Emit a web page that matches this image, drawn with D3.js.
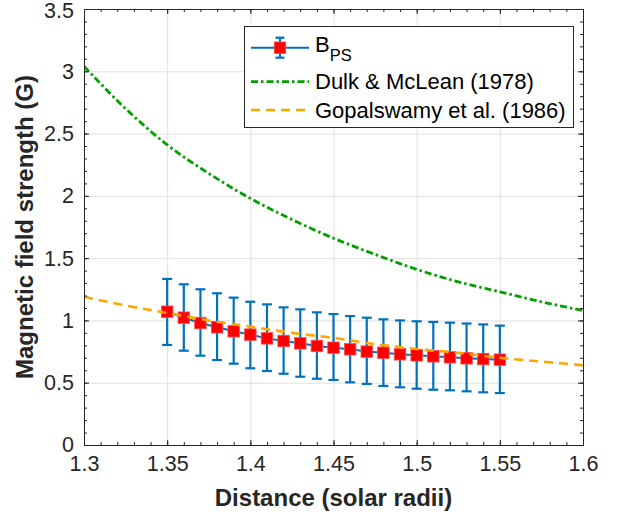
<!DOCTYPE html>
<html><head><meta charset="utf-8">
<script src="https://cdn.jsdelivr.net/npm/d3@7"></script>
<style>
body{margin:0;background:#fff}
svg{display:block}
text{font-family:"Liberation Sans",Arial,Helvetica,sans-serif}
</style>
</head><body><svg id="chart" width="621" height="515"></svg>
<script>
// ---- data ----
const distance = [1.35,1.36,1.37,1.38,1.39,1.40,1.41,1.42,1.43,1.44,1.45,1.46,1.47,1.48,1.49,1.50,1.51,1.52,1.53,1.54,1.55];
const bps      = [1.070,1.022,0.979,0.945,0.913,0.886,0.856,0.835,0.816,0.795,0.781,0.768,0.750,0.741,0.728,0.720,0.712,0.704,0.696,0.690,0.685];
const bpsUpper = [1.333,1.290,1.250,1.218,1.183,1.150,1.129,1.105,1.089,1.065,1.051,1.035,1.022,1.009,1.000,0.993,0.988,0.982,0.975,0.968,0.958];
const bpsLower = [0.803,0.757,0.717,0.682,0.653,0.616,0.594,0.572,0.548,0.532,0.522,0.503,0.490,0.474,0.463,0.452,0.444,0.439,0.431,0.423,0.417];
const modelR   = [1.300,1.325,1.350,1.375,1.400,1.425,1.450,1.475,1.500,1.525,1.550,1.575,1.600];
const dulk     = [3.04,2.70,2.41,2.18,1.98,1.81,1.66,1.53,1.41,1.31,1.23,1.15,1.08];
const gopal    = [1.19,1.12,1.06,1.00,0.95,0.90,0.86,0.81,0.77,0.74,0.70,0.67,0.64];
const xTicks = [1.3,1.35,1.4,1.45,1.5,1.55,1.6];
const xTickLabels = ["1.3","1.35","1.4","1.45","1.5","1.55","1.6"];
const yTicks = [0,0.5,1,1.5,2,2.5,3,3.5];
const yTickLabels = ["0","0.5","1","1.5","2","2.5","3","3.5"];
const legendLabels = ["B","Dulk & McLean (1978)","Gopalswamy et al. (1986)"];
const xLabel = "Distance (solar radii)";
const yLabel = "Magnetic field strength (G)";

// ---- layout ----
const L = 84, R = 583, T = 9, B = 445;
const svg = d3.select("#chart");
const x = d3.scaleLinear().domain([1.3,1.6]).range([L,R]);
const y = d3.scaleLinear().domain([0,3.5]).range([B,T]);
const axisCol = "#262626", gridCol = "#e0e0e0";
const blue = "#0072BD", red = "#FF0000", green = "#00A000", orange = "#FFA500";

const xMinor = d3.range(130,161).map(v=>v/100);
const yMinor = d3.range(0,36).map(v=>v/10);

// grid
const grid = svg.append("g");
grid.append("g").attr("transform",`translate(0,${B})`)
  .call(d3.axisBottom(x).tickValues(xTicks).tickSize(-(B-T)).tickFormat(""))
  .call(g=>{g.select(".domain").remove(); g.selectAll("line").attr("stroke",gridCol).attr("stroke-width",1);});
grid.append("g").attr("transform",`translate(${L},0)`)
  .call(d3.axisLeft(y).tickValues(yTicks).tickSize(-(R-L)).tickFormat(""))
  .call(g=>{g.select(".domain").remove(); g.selectAll("line").attr("stroke",gridCol).attr("stroke-width",1);});

// clip
svg.append("clipPath").attr("id","clip").append("rect").attr("x",L).attr("y",T).attr("width",R-L).attr("height",B-T);
const plot = svg.append("g").attr("clip-path","url(#clip)");

// BPS line
const pts = distance.map((d,i)=>({x:d,y:bps[i],lo:bpsLower[i],hi:bpsUpper[i]}));
plot.append("path").datum(pts)
  .attr("d", d3.line().x(d=>x(d.x)).y(d=>y(d.y)))
  .attr("fill","none").attr("stroke",blue).attr("stroke-width",2);
// error bars
const eb = plot.append("g").attr("stroke",blue).attr("stroke-width",2.2);
eb.selectAll(".v").data(pts).join("line")
  .attr("x1",d=>x(d.x)).attr("x2",d=>x(d.x)).attr("y1",d=>y(d.lo)).attr("y2",d=>y(d.hi));
eb.selectAll(".t").data(pts).join("line")
  .attr("x1",d=>x(d.x)-5).attr("x2",d=>x(d.x)+5).attr("y1",d=>y(d.hi)).attr("y2",d=>y(d.hi));
eb.selectAll(".b").data(pts).join("line")
  .attr("x1",d=>x(d.x)-5).attr("x2",d=>x(d.x)+5).attr("y1",d=>y(d.lo)).attr("y2",d=>y(d.lo));
// markers
plot.append("g").selectAll("rect").data(pts).join("rect")
  .attr("x",d=>x(d.x)-5.75).attr("y",d=>y(d.y)-5.75).attr("width",11.5).attr("height",11.5)
  .attr("fill",red).attr("stroke","#ff5050").attr("stroke-width",0.8);

// model curves
const curve = d3.line().x((d,i)=>x(modelR[i])).y(d=>y(d)).curve(d3.curveMonotoneX);
plot.append("path").datum(dulk).attr("d",curve)
  .attr("fill","none").attr("stroke",green).attr("stroke-width",2.8).attr("stroke-dasharray","7,3,2.5,3");
plot.append("path").datum(gopal).attr("d",curve)
  .attr("fill","none").attr("stroke",orange).attr("stroke-width",2.6).attr("stroke-dasharray","9,6");

// axes
const fs = 21.5;
function styleAxis(g){ g.select(".domain").attr("stroke",axisCol).attr("stroke-width",1); g.selectAll("line").attr("stroke",axisCol); g.selectAll("text").attr("fill",axisCol).attr("font-size",fs); }
svg.append("g").attr("transform",`translate(0,${B})`)
  .call(d3.axisBottom(x).tickValues(xTicks).tickSize(-5).tickPadding(11).tickSizeOuter(0).tickFormat((d,i)=>xTickLabels[i]))
  .call(styleAxis);
svg.append("g").attr("transform",`translate(0,${B})`)
  .call(d3.axisBottom(x).tickValues(xMinor).tickSize(-3).tickSizeOuter(0).tickFormat(""))
  .call(styleAxis);
svg.append("g").attr("transform",`translate(0,${T})`)
  .call(d3.axisTop(x).tickValues(xTicks).tickSize(-5).tickSizeOuter(0).tickFormat(""))
  .call(styleAxis);
svg.append("g").attr("transform",`translate(0,${T})`)
  .call(d3.axisTop(x).tickValues(xMinor).tickSize(-3).tickSizeOuter(0).tickFormat(""))
  .call(styleAxis);
svg.append("g").attr("transform",`translate(${L},0)`)
  .call(d3.axisLeft(y).tickValues(yTicks).tickSize(-5).tickPadding(10).tickSizeOuter(0).tickFormat((d,i)=>yTickLabels[i]))
  .call(styleAxis)
  .call(g=>g.selectAll(".tick").filter(d=>d===3.5).select("text").attr("dy","0.4em"));
svg.append("g").attr("transform",`translate(${L},0)`)
  .call(d3.axisLeft(y).tickValues(yMinor).tickSize(-3).tickSizeOuter(0).tickFormat(""))
  .call(styleAxis);
svg.append("g").attr("transform",`translate(${R},0)`)
  .call(d3.axisRight(y).tickValues(yTicks).tickSize(-5).tickSizeOuter(0).tickFormat(""))
  .call(styleAxis);
svg.append("g").attr("transform",`translate(${R},0)`)
  .call(d3.axisRight(y).tickValues(yMinor).tickSize(-3).tickSizeOuter(0).tickFormat(""))
  .call(styleAxis);

// axis labels
svg.append("text").attr("x",(L+R)/2).attr("y",506).attr("text-anchor","middle")
  .attr("font-size",24).attr("font-weight","bold").attr("fill",axisCol).text(xLabel);
svg.append("text").attr("transform",`translate(33,${(T+B)/2}) rotate(-90)`).attr("text-anchor","middle")
  .attr("font-size",24).attr("font-weight","bold").attr("fill",axisCol).text(yLabel);

// legend
const lfs = 22;
const lg = svg.append("g");
lg.append("rect").attr("x",244.5).attr("y",26.5).attr("width",329).attr("height",101)
  .attr("fill","#fff").attr("stroke",axisCol).attr("stroke-width",1);
const lx1 = 251, lx2 = 309, lxc = 280, tx = 315;
const rowY = [47.7, 81.7, 110];
// BPS entry
lg.append("line").attr("x1",lx1).attr("x2",lx2).attr("y1",rowY[0]).attr("y2",rowY[0]).attr("stroke",blue).attr("stroke-width",2);
lg.append("line").attr("x1",lxc).attr("x2",lxc).attr("y1",rowY[0]-10).attr("y2",rowY[0]+10).attr("stroke",blue).attr("stroke-width",2.2);
lg.append("line").attr("x1",lxc-4.5).attr("x2",lxc+4.5).attr("y1",rowY[0]-10).attr("y2",rowY[0]-10).attr("stroke",blue).attr("stroke-width",2.2);
lg.append("line").attr("x1",lxc-4.5).attr("x2",lxc+4.5).attr("y1",rowY[0]+10).attr("y2",rowY[0]+10).attr("stroke",blue).attr("stroke-width",2.2);
lg.append("rect").attr("x",lxc-5.75).attr("y",rowY[0]-5.75).attr("width",11.5).attr("height",11.5).attr("fill",red).attr("stroke","#ff5050").attr("stroke-width",0.8);
const t0 = lg.append("text").attr("x",tx).attr("y",52).attr("font-size",lfs).attr("fill","#000");
t0.append("tspan").text(legendLabels[0]);
t0.append("tspan").attr("dy",9).attr("font-size",16.5).text("PS");
// Dulk entry
lg.append("line").attr("x1",lx1).attr("x2",lx2).attr("y1",rowY[1]).attr("y2",rowY[1]).attr("stroke",green).attr("stroke-width",2.8).attr("stroke-dasharray","7,3,2.5,3");
lg.append("text").attr("x",tx).attr("y",89).attr("font-size",lfs).attr("fill","#000").text(legendLabels[1]);
// Gopal entry
lg.append("line").attr("x1",lx1).attr("x2",lx2).attr("y1",rowY[2]).attr("y2",rowY[2]).attr("stroke",orange).attr("stroke-width",2.6).attr("stroke-dasharray","9,6");
lg.append("text").attr("x",tx).attr("y",117.5).attr("font-size",lfs).attr("fill","#000").text(legendLabels[2]);
</script>
</body></html>
